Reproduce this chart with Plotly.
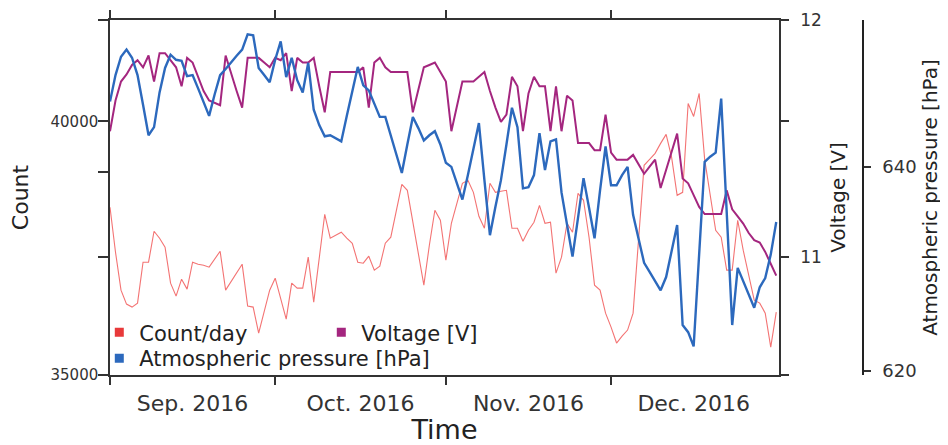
import pandas as pd
import plotly.graph_objects as go

# Daily dates, 1 Sep 2016 - 31 Dec 2016
dates = pd.date_range("2016-09-01", "2016-12-31", freq="D")

count_per_day = [
    38307, 37421, 36673, 36398, 36339, 36417, 37224, 37224, 37835, 37697,
    37520, 36811, 36555, 36890, 36693, 37224, 37185, 37165, 37126, 37283,
    37441, 36673, 36850, 37028, 37185, 36358, 36339, 35827, 36280, 36673,
    36909, 36476, 36102, 36811, 36713, 36713, 37323, 36437, 37303, 38169,
    37697, 37756, 37815, 37697, 37598, 37224, 37205, 37343, 37067, 37146,
    37598, 37717, 38248, 38760, 38642, 38012, 37382, 36772, 37559, 38248,
    38051, 37264, 37992, 38386, 38780, 38839, 38602, 38130, 37894, 38780,
    38602, 38622, 38642, 37894, 37894, 37638, 37854, 38012, 38346, 37992,
    38012, 37008, 37323, 37992, 37815, 38583, 38445, 37717, 36772, 36673,
    36220, 35945, 35630, 35768, 35886, 36220, 37598, 39134, 39252, 39370,
    39567, 39744, 39291, 38543, 38602, 40354, 40098, 40551, 39252, 38543,
    37854, 37717, 37067, 37067, 38051, 37461, 36969, 36476, 36417, 36220,
    35551, 36240,
]

voltage = [
    11.53, 11.66, 11.74, 11.77, 11.81, 11.83, 11.80, 11.85, 11.74, 11.86,
    11.86, 11.83, 11.80, 11.72, 11.84, 11.82, 11.76, 11.70, 11.66, 11.65,
    11.64, 11.85, 11.77, 11.70, 11.63, 11.84, 11.84, 11.84, 11.82, 11.80,
    11.84, 11.83, 11.86, 11.70, 11.84, 11.82, 11.82, 11.84, 11.72, 11.61,
    11.78, 11.78, 11.78, 11.78, 11.78, 11.78, 11.80, 11.63, 11.82, 11.84,
    11.80, 11.78, 11.78, 11.78, 11.78, 11.61, 11.70, 11.80, 11.81, 11.82,
    11.78, 11.74, 11.53, 11.63, 11.74, 11.74, 11.74, 11.76, 11.78, 11.70,
    11.63, 11.57, 11.60, 11.76, 11.72, 11.53, 11.69, 11.76, 11.72, 11.72,
    11.53, 11.72, 11.53, 11.68, 11.66, 11.48, 11.48, 11.48, 11.45, 11.45,
    11.60, 11.44, 11.41, 11.41, 11.41, 11.43, 11.39, 11.35, 11.38, 11.41,
    11.29, 11.37, 11.45, 11.52, 11.33, 11.31, 11.26, 11.21, 11.18, 11.18,
    11.18, 11.18, 11.28, 11.20, 11.17, 11.14, 11.10, 11.07, 11.06, 11.02,
    10.97, 10.92,
]

pressure = [
    646.4, 649.0, 650.8, 651.5, 650.7, 649.0, 646.1, 643.1, 643.9, 647.3,
    649.7, 651.0, 650.5, 650.4, 648.9, 649.0, 647.7, 646.3, 645.0, 647.1,
    649.0, 649.6, 650.3, 650.9, 651.5, 653.0, 652.9, 649.7, 649.0, 648.3,
    650.5, 652.3, 648.8, 650.7, 648.5, 647.3, 650.2, 645.6, 644.1, 643.0,
    643.1, 642.8, 642.5, 645.0, 647.5, 649.8, 648.0, 647.5, 646.2, 644.9,
    644.9, 643.1, 641.2, 639.4, 642.2, 644.9, 643.8, 642.6, 643.1, 643.5,
    642.2, 640.4, 640.0, 638.4, 636.8, 639.2, 641.9, 644.3, 638.7, 633.3,
    636.1, 638.7, 642.2, 645.8, 643.9, 637.9, 638.0, 639.2, 643.3, 639.7,
    642.5, 642.7, 637.5, 634.3, 631.2, 635.0, 638.9, 636.0, 633.0, 637.7,
    642.0, 638.2, 638.2, 639.2, 640.0, 635.3, 632.8, 630.6, 629.7, 628.8,
    627.9, 629.2, 631.9, 634.3, 624.5, 623.8, 622.4, 631.4, 640.5, 641.0,
    641.4, 646.7, 635.6, 624.5, 630.1, 628.8, 627.5, 626.2, 628.2, 629.1,
    631.4, 634.6,
]

count_ticks = [35000, 37330, 39000, 40000, 42000]
count_ticktext = ["35000", "", "", "40000", ""]
volt_ticks = [10.5, 11, 11.575, 12]
volt_ticktext = ["", "11", "", "12"]
press_ticks = [620, 640]

RED = "#e8393a"
PURPLE = "#a4267f"
BLUE = "#2c69bd"
FONT = "DejaVu Sans"
AX = "#333333"

fig = go.Figure()
fig.add_trace(go.Scatter(x=dates, y=count_per_day, mode="lines", name="Count/day",
                         line=dict(color="rgba(240,80,80,0.8)", width=1.1),
                         showlegend=False, yaxis="y"))
fig.add_trace(go.Scatter(x=dates, y=voltage, mode="lines", name="Voltage [V]",
                         line=dict(color=PURPLE, width=2), showlegend=False, yaxis="y2"))
fig.add_trace(go.Scatter(x=dates, y=pressure, mode="lines", name="Atmospheric pressure [hPa]",
                         line=dict(color=BLUE, width=2.4), showlegend=False, yaxis="y3"))

# legend entries (square markers)
for nm, col, lg in [("Count/day", RED, "legend"), ("Voltage [V]", PURPLE, "legend"),
                    ("Atmospheric pressure [hPa]", BLUE, "legend2")]:
    fig.add_trace(go.Scatter(x=[None], y=[None], mode="markers", name=nm,
                             marker=dict(symbol="square", size=9, color=col),
                             legend=lg, showlegend=True))

# page body has an 8px margin, so the figure is 8px smaller and offset by 8px
fig.update_layout(
    width=940, height=437,
    margin=dict(l=102, r=169, t=12, b=70, autoexpand=False),
    paper_bgcolor="white", plot_bgcolor="white",
    font=dict(family=FONT, color=AX),
    xaxis=dict(
        type="date", domain=[0, 1], automargin=False,
        range=["2016-09-01", "2016-12-31 12:00"],
        tick0="2016-09-01", dtick="M1", tickformat="%b. %Y", ticklabelmode="period",
        showline=True, linecolor=AX, linewidth=1.5, mirror="ticks",
        ticks="outside", ticklen=8, tickcolor=AX, tickwidth=1.5,
        showgrid=False, zeroline=False,
        tickfont=dict(size=22, color=AX),
        title=dict(text="Time", font=dict(size=27, color="#222"), standoff=2),
    ),
    yaxis=dict(
        range=[35000, 42000], tickvals=count_ticks, ticktext=count_ticktext,
        automargin=False,
        showline=True, linecolor=AX, linewidth=1.5,
        ticks="outside", ticklen=10, tickcolor=AX, tickwidth=1.5,
        ticklabelstandoff=-3,
        showgrid=False, zeroline=False,
        tickfont=dict(size=15, color=AX),
        title=dict(text="Count", font=dict(size=22, color="#222"), standoff=20),
    ),
    yaxis2=dict(
        overlaying="y", side="right", anchor="x", automargin=False,
        range=[10.5, 12], tickvals=volt_ticks, ticktext=volt_ticktext,
        showline=True, linecolor=AX, linewidth=1.5,
        ticks="outside", ticklen=8, tickcolor=AX, tickwidth=1.5,
        ticklabelstandoff=8,
        showgrid=False, zeroline=False,
        tickfont=dict(size=17, color=AX),
        title=dict(text="Voltage [V]", font=dict(size=20, color="#222"), standoff=10),
    ),
    yaxis3=dict(
        overlaying="y", side="right", anchor="free", position=1, shift=84,
        automargin=False,
        range=[619.6, 654.4], tickvals=press_ticks,
        showline=True, linecolor="#222", linewidth=1.5,
        ticks="outside", ticklen=7, tickcolor=AX, tickwidth=1.5,
        ticklabelstandoff=8,
        showgrid=False, zeroline=False,
        tickfont=dict(size=18, color=AX),
        title=dict(text="Atmospheric pressure [hPa]", font=dict(size=20, color="#222"), standoff=6),
    ),
    legend=dict(orientation="h", x=-0.016, xanchor="left", y=0.177, yanchor="top",
                entrywidth=177, font=dict(size=21, color="#222"),
                bgcolor="rgba(0,0,0,0)", itemwidth=30, tracegroupgap=0),
    legend2=dict(orientation="h", x=-0.016, xanchor="left", y=0.104, yanchor="top",
                 font=dict(size=21, color="#222"),
                 bgcolor="rgba(0,0,0,0)", itemwidth=30),
)

fig.write_html("out.html")
